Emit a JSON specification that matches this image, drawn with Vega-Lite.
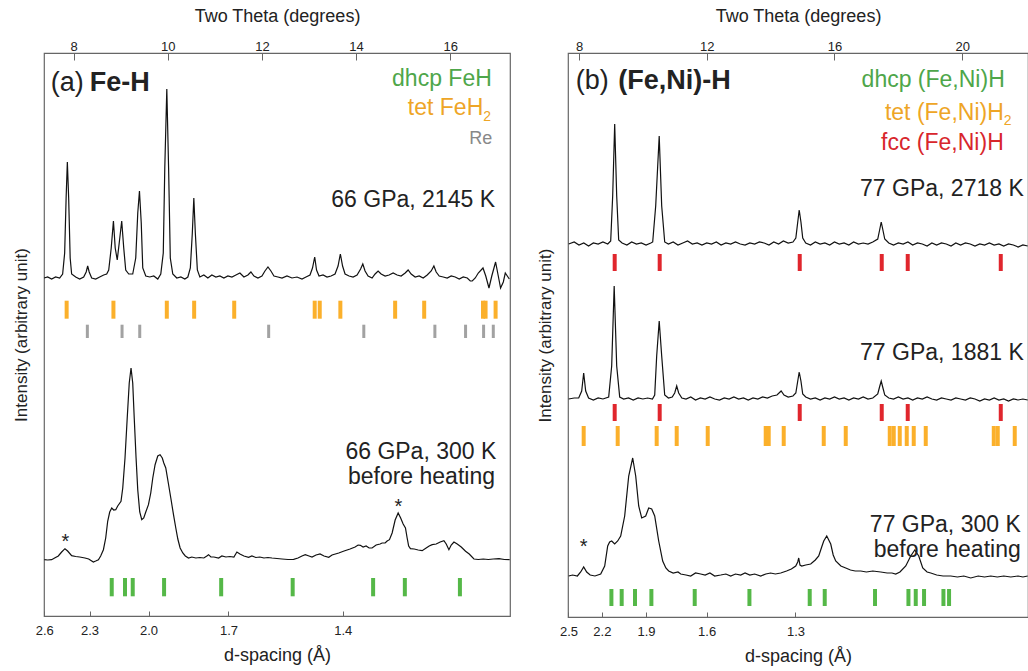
{
"$schema":"https://vega.github.io/schema/vega-lite/v6.json",
"padding":{"left":11,"top":6,"right":0,"bottom":0},
"spacing":24,
"config":{"font":"Liberation Sans","view":{"stroke":"#666","strokeWidth":1.2},
"axis":{"labelFont":"Liberation Sans","titleFont":"Liberation Sans","labelFontSize":13,"titleFontSize":18,"titleFontWeight":"normal","labelColor":"#222","titleColor":"#222","tickColor":"#666","domain":false,"grid":false,"labelFlush":false,"labelOverlap":false,"labelBound":false}},
"datasets":{
"a_spec":[
{"s":"h","tt":7.372,"I":338},{"s":"h","tt":7.447,"I":339},{"s":"h","tt":7.532,"I":337},{"s":"h","tt":7.617,"I":339},{"s":"h","tt":7.702,"I":338},{"s":"h","tt":7.766,"I":342},{"s":"h","tt":7.809,"I":363},{"s":"h","tt":7.84,"I":418},{"s":"h","tt":7.866,"I":454},{"s":"h","tt":7.894,"I":418},{"s":"h","tt":7.926,"I":358},{"s":"h","tt":7.957,"I":342},{"s":"h","tt":8.043,"I":339},{"s":"h","tt":8.128,"I":337},{"s":"h","tt":8.213,"I":339},{"s":"h","tt":8.266,"I":344},{"s":"h","tt":8.298,"I":350},{"s":"h","tt":8.33,"I":344},{"s":"h","tt":8.383,"I":338},{"s":"h","tt":8.468,"I":337},{"s":"h","tt":8.553,"I":339},{"s":"h","tt":8.638,"I":341},{"s":"h","tt":8.702,"I":342},{"s":"h","tt":8.745,"I":346},{"s":"h","tt":8.798,"I":368},{"s":"h","tt":8.845,"I":395},{"s":"h","tt":8.883,"I":368},{"s":"h","tt":8.926,"I":356},{"s":"h","tt":8.968,"I":373},{"s":"h","tt":9.021,"I":395},{"s":"h","tt":9.064,"I":368},{"s":"h","tt":9.106,"I":346},{"s":"h","tt":9.17,"I":342},{"s":"h","tt":9.255,"I":342},{"s":"h","tt":9.319,"I":358},{"s":"h","tt":9.362,"I":403},{"s":"h","tt":9.398,"I":425},{"s":"h","tt":9.436,"I":393},{"s":"h","tt":9.468,"I":348},{"s":"h","tt":9.532,"I":340},{"s":"h","tt":9.617,"I":339},{"s":"h","tt":9.702,"I":340},{"s":"h","tt":9.787,"I":337},{"s":"h","tt":9.851,"I":342},{"s":"h","tt":9.904,"I":363},{"s":"h","tt":9.936,"I":448},{"s":"h","tt":9.979,"I":527},{"s":"h","tt":10.017,"I":448},{"s":"h","tt":10.053,"I":358},{"s":"h","tt":10.106,"I":342},{"s":"h","tt":10.191,"I":338},{"s":"h","tt":10.277,"I":339},{"s":"h","tt":10.362,"I":337},{"s":"h","tt":10.426,"I":339},{"s":"h","tt":10.479,"I":348},{"s":"h","tt":10.521,"I":383},{"s":"h","tt":10.553,"I":418},{"s":"h","tt":10.585,"I":383},{"s":"h","tt":10.628,"I":346},{"s":"h","tt":10.681,"I":339},{"s":"h","tt":10.766,"I":341},{"s":"h","tt":10.851,"I":338},{"s":"h","tt":10.936,"I":341},{"s":"h","tt":11.021,"I":339},{"s":"h","tt":11.106,"I":340},{"s":"h","tt":11.191,"I":338},{"s":"h","tt":11.277,"I":340},{"s":"h","tt":11.362,"I":339},{"s":"h","tt":11.447,"I":341},{"s":"h","tt":11.532,"I":343},{"s":"h","tt":11.617,"I":339},{"s":"h","tt":11.702,"I":341},{"s":"h","tt":11.766,"I":344},{"s":"h","tt":11.83,"I":340},{"s":"h","tt":11.915,"I":338},{"s":"h","tt":12.0,"I":340},{"s":"h","tt":12.064,"I":345},{"s":"h","tt":12.128,"I":349},{"s":"h","tt":12.191,"I":345},{"s":"h","tt":12.255,"I":340},{"s":"h","tt":12.34,"I":339},{"s":"h","tt":12.426,"I":338},{"s":"h","tt":12.532,"I":340},{"s":"h","tt":12.638,"I":338},{"s":"h","tt":12.745,"I":339},{"s":"h","tt":12.851,"I":337},{"s":"h","tt":12.936,"I":339},{"s":"h","tt":13.021,"I":341},{"s":"h","tt":13.074,"I":348},{"s":"h","tt":13.121,"I":359},{"s":"h","tt":13.16,"I":346},{"s":"h","tt":13.213,"I":340},{"s":"h","tt":13.298,"I":341},{"s":"h","tt":13.383,"I":339},{"s":"h","tt":13.468,"I":340},{"s":"h","tt":13.553,"I":342},{"s":"h","tt":13.617,"I":350},{"s":"h","tt":13.666,"I":362},{"s":"h","tt":13.713,"I":350},{"s":"h","tt":13.766,"I":342},{"s":"h","tt":13.851,"I":340},{"s":"h","tt":13.936,"I":339},{"s":"h","tt":14.021,"I":341},{"s":"h","tt":14.096,"I":347},{"s":"h","tt":14.143,"I":352},{"s":"h","tt":14.191,"I":345},{"s":"h","tt":14.255,"I":340},{"s":"h","tt":14.34,"I":338},{"s":"h","tt":14.404,"I":342},{"s":"h","tt":14.468,"I":345},{"s":"h","tt":14.532,"I":342},{"s":"h","tt":14.617,"I":340},{"s":"h","tt":14.702,"I":341},{"s":"h","tt":14.787,"I":343},{"s":"h","tt":14.872,"I":341},{"s":"h","tt":14.957,"I":340},{"s":"h","tt":15.043,"I":343},{"s":"h","tt":15.106,"I":346},{"s":"h","tt":15.17,"I":342},{"s":"h","tt":15.255,"I":339},{"s":"h","tt":15.34,"I":340},{"s":"h","tt":15.426,"I":338},{"s":"h","tt":15.511,"I":341},{"s":"h","tt":15.596,"I":345},{"s":"h","tt":15.653,"I":350},{"s":"h","tt":15.702,"I":344},{"s":"h","tt":15.766,"I":340},{"s":"h","tt":15.851,"I":339},{"s":"h","tt":15.936,"I":338},{"s":"h","tt":16.021,"I":340},{"s":"h","tt":16.106,"I":339},{"s":"h","tt":16.191,"I":337},{"s":"h","tt":16.277,"I":339},{"s":"h","tt":16.362,"I":338},{"s":"h","tt":16.426,"I":335},{"s":"h","tt":16.468,"I":335},{"s":"h","tt":16.532,"I":338},{"s":"h","tt":16.596,"I":343},{"s":"h","tt":16.696,"I":348},{"s":"h","tt":16.755,"I":340},{"s":"h","tt":16.823,"I":328},{"s":"h","tt":16.883,"I":340},{"s":"h","tt":16.964,"I":354},{"s":"h","tt":17.021,"I":340},{"s":"h","tt":17.07,"I":328},{"s":"h","tt":17.128,"I":334},{"s":"h","tt":17.17,"I":343},{"s":"h","tt":17.213,"I":340},{"s":"h","tt":17.255,"I":337},
{"s":"c","tt":7.377,"I":56.3},{"s":"c","tt":7.447,"I":56},{"s":"c","tt":7.532,"I":56.3},{"s":"c","tt":7.596,"I":58},{"s":"c","tt":7.674,"I":60},{"s":"c","tt":7.745,"I":64},{"s":"c","tt":7.815,"I":67.3},{"s":"c","tt":7.872,"I":65},{"s":"c","tt":7.957,"I":60.3},{"s":"c","tt":8.043,"I":59.5},{"s":"c","tt":8.128,"I":59},{"s":"c","tt":8.24,"I":58},{"s":"c","tt":8.319,"I":57},{"s":"c","tt":8.419,"I":54},{"s":"c","tt":8.468,"I":55},{"s":"c","tt":8.526,"I":56.3},{"s":"c","tt":8.574,"I":60},{"s":"c","tt":8.632,"I":66.3},{"s":"c","tt":8.681,"I":78},{"s":"c","tt":8.723,"I":94.7},{"s":"c","tt":8.766,"I":104},{"s":"c","tt":8.809,"I":108},{"s":"c","tt":8.851,"I":106},{"s":"c","tt":8.894,"I":106.3},{"s":"c","tt":8.936,"I":110},{"s":"c","tt":9.006,"I":114.7},{"s":"c","tt":9.043,"I":128},{"s":"c","tt":9.091,"I":158},{"s":"c","tt":9.138,"I":198},{"s":"c","tt":9.181,"I":233},{"s":"c","tt":9.219,"I":248},{"s":"c","tt":9.255,"I":233},{"s":"c","tt":9.287,"I":198},{"s":"c","tt":9.326,"I":158},{"s":"c","tt":9.362,"I":126},{"s":"c","tt":9.404,"I":104},{"s":"c","tt":9.447,"I":96.3},{"s":"c","tt":9.489,"I":98},{"s":"c","tt":9.532,"I":104},{"s":"c","tt":9.589,"I":111.3},{"s":"c","tt":9.638,"I":123},{"s":"c","tt":9.681,"I":138},{"s":"c","tt":9.73,"I":151.3},{"s":"c","tt":9.787,"I":160},{"s":"c","tt":9.836,"I":161.3},{"s":"c","tt":9.883,"I":158},{"s":"c","tt":9.915,"I":153},{"s":"c","tt":9.957,"I":148},{"s":"c","tt":10.011,"I":133},{"s":"c","tt":10.064,"I":118},{"s":"c","tt":10.121,"I":101.3},{"s":"c","tt":10.17,"I":88},{"s":"c","tt":10.213,"I":77},{"s":"c","tt":10.262,"I":68},{"s":"c","tt":10.319,"I":63},{"s":"c","tt":10.372,"I":60},{"s":"c","tt":10.44,"I":58},{"s":"c","tt":10.511,"I":59},{"s":"c","tt":10.596,"I":58},{"s":"c","tt":10.681,"I":58.5},{"s":"c","tt":10.766,"I":58},{"s":"c","tt":10.83,"I":60},{"s":"c","tt":10.866,"I":61.3},{"s":"c","tt":10.915,"I":59},{"s":"c","tt":10.979,"I":59},{"s":"c","tt":11.079,"I":58},{"s":"c","tt":11.149,"I":60},{"s":"c","tt":11.234,"I":59},{"s":"c","tt":11.319,"I":59.5},{"s":"c","tt":11.404,"I":59},{"s":"c","tt":11.468,"I":64},{"s":"c","tt":11.532,"I":62},{"s":"c","tt":11.617,"I":60},{"s":"c","tt":11.717,"I":58.7},{"s":"c","tt":11.787,"I":60},{"s":"c","tt":11.872,"I":58.5},{"s":"c","tt":11.957,"I":59},{"s":"c","tt":12.043,"I":58},{"s":"c","tt":12.128,"I":58.5},{"s":"c","tt":12.213,"I":58},{"s":"c","tt":12.319,"I":57.5},{"s":"c","tt":12.426,"I":57},{"s":"c","tt":12.553,"I":56.5},{"s":"c","tt":12.674,"I":56.7},{"s":"c","tt":12.766,"I":58},{"s":"c","tt":12.851,"I":60},{"s":"c","tt":12.921,"I":61.3},{"s":"c","tt":13.0,"I":60},{"s":"c","tt":13.064,"I":59},{"s":"c","tt":13.149,"I":61},{"s":"c","tt":13.234,"I":62},{"s":"c","tt":13.319,"I":60},{"s":"c","tt":13.419,"I":58.7},{"s":"c","tt":13.489,"I":61},{"s":"c","tt":13.632,"I":63},{"s":"c","tt":13.745,"I":65},{"s":"c","tt":13.872,"I":67},{"s":"c","tt":13.979,"I":69},{"s":"c","tt":14.043,"I":71},{"s":"c","tt":14.091,"I":70.7},{"s":"c","tt":14.149,"I":69},{"s":"c","tt":14.213,"I":70},{"s":"c","tt":14.277,"I":68},{"s":"c","tt":14.34,"I":68},{"s":"c","tt":14.426,"I":71},{"s":"c","tt":14.511,"I":72},{"s":"c","tt":14.553,"I":73},{"s":"c","tt":14.617,"I":73},{"s":"c","tt":14.66,"I":75},{"s":"c","tt":14.709,"I":76.3},{"s":"c","tt":14.766,"I":83},{"s":"c","tt":14.83,"I":96},{"s":"c","tt":14.894,"I":103},{"s":"c","tt":14.947,"I":98},{"s":"c","tt":15.0,"I":92},{"s":"c","tt":15.049,"I":88},{"s":"c","tt":15.085,"I":78},{"s":"c","tt":15.117,"I":70},{"s":"c","tt":15.155,"I":67.3},{"s":"c","tt":15.234,"I":67},{"s":"c","tt":15.319,"I":66},{"s":"c","tt":15.404,"I":65.3},{"s":"c","tt":15.489,"I":68},{"s":"c","tt":15.553,"I":70},{"s":"c","tt":15.617,"I":71.3},{"s":"c","tt":15.702,"I":72},{"s":"c","tt":15.787,"I":74},{"s":"c","tt":15.866,"I":75.3},{"s":"c","tt":15.915,"I":72},{"s":"c","tt":15.972,"I":66.3},{"s":"c","tt":16.021,"I":71},{"s":"c","tt":16.079,"I":74},{"s":"c","tt":16.149,"I":72},{"s":"c","tt":16.234,"I":69},{"s":"c","tt":16.326,"I":64.7},{"s":"c","tt":16.404,"I":62},{"s":"c","tt":16.504,"I":57},{"s":"c","tt":16.596,"I":56.5},{"s":"c","tt":16.702,"I":57},{"s":"c","tt":16.809,"I":56.5},{"s":"c","tt":16.915,"I":57},{"s":"c","tt":17.036,"I":57.3},{"s":"c","tt":17.149,"I":56.5},{"s":"c","tt":17.262,"I":56.3}
],
"a_ticks":[
{"phase":"tet","tt":7.851,"lo":297.3,"hi":315.3},{"phase":"tet","tt":8.845,"lo":297.3,"hi":315.3},{"phase":"tet","tt":9.979,"lo":297.3,"hi":315.3},{"phase":"tet","tt":10.56,"lo":297.3,"hi":315.3},{"phase":"tet","tt":11.411,"lo":297.3,"hi":315.3},{"phase":"tet","tt":13.121,"lo":297.3,"hi":315.3},{"phase":"tet","tt":13.228,"lo":297.3,"hi":315.3},{"phase":"tet","tt":13.666,"lo":297.3,"hi":315.3},{"phase":"tet","tt":14.83,"lo":297.3,"hi":315.3},{"phase":"tet","tt":15.447,"lo":297.3,"hi":315.3},{"phase":"tet","tt":16.696,"lo":297.3,"hi":315.3},{"phase":"tet","tt":16.751,"lo":297.3,"hi":315.3},{"phase":"tet","tt":16.964,"lo":297.3,"hi":315.3},
{"phase":"Re","tt":8.291,"lo":278,"hi":291.3},{"phase":"Re","tt":9.028,"lo":278,"hi":291.3},{"phase":"Re","tt":9.404,"lo":278,"hi":291.3},{"phase":"Re","tt":12.143,"lo":278,"hi":291.3},{"phase":"Re","tt":14.164,"lo":278,"hi":291.3},{"phase":"Re","tt":15.674,"lo":278,"hi":291.3},{"phase":"Re","tt":16.326,"lo":278,"hi":291.3},{"phase":"Re","tt":16.709,"lo":278,"hi":291.3},{"phase":"Re","tt":16.915,"lo":278,"hi":291.3},
{"phase":"dhcp","tt":8.809,"lo":19.7,"hi":38},{"phase":"dhcp","tt":9.091,"lo":19.7,"hi":38},{"phase":"dhcp","tt":9.255,"lo":19.7,"hi":38},{"phase":"dhcp","tt":9.921,"lo":19.7,"hi":38},{"phase":"dhcp","tt":11.134,"lo":19.7,"hi":38},{"phase":"dhcp","tt":12.653,"lo":19.7,"hi":38},{"phase":"dhcp","tt":14.362,"lo":19.7,"hi":38},{"phase":"dhcp","tt":15.036,"lo":19.7,"hi":38},{"phase":"dhcp","tt":16.206,"lo":19.7,"hi":38}
],
"a_text":[
{"grp":"id","label":"(a)","tt":7.511,"I":525},{"grp":"name","label":"Fe-H","tt":8.34,"I":525},
{"grp":"dhcp","label":"dhcp FeH","tt":16.883,"I":529.7},{"grp":"tet","label":"tet FeH","tt":16.702,"I":500.7},{"grp":"tetsub","label":"2","tt":16.702,"I":495},{"grp":"re","label":"Re","tt":16.894,"I":472},
{"grp":"cond","label":"66 GPa, 2145 K","tt":16.951,"I":409},{"grp":"cond","label":"66 GPa, 300 K","tt":16.979,"I":157.3},{"grp":"cond","label":"before heating","tt":16.951,"I":132},
{"grp":"star","label":"*","tt":7.823,"I":67.7},{"grp":"star","label":"*","tt":14.9,"I":103}
],
"b_spec":[
{"s":"h","tt":7.677,"I":373},{"s":"h","tt":7.85,"I":375},{"s":"h","tt":8.0,"I":372},{"s":"h","tt":8.15,"I":374},{"s":"h","tt":8.3,"I":371},{"s":"h","tt":8.45,"I":374},{"s":"h","tt":8.6,"I":373},{"s":"h","tt":8.75,"I":375},{"s":"h","tt":8.9,"I":373},{"s":"h","tt":8.993,"I":376},{"s":"h","tt":9.055,"I":421},{"s":"h","tt":9.118,"I":493},{"s":"h","tt":9.181,"I":421},{"s":"h","tt":9.243,"I":377},{"s":"h","tt":9.35,"I":374},{"s":"h","tt":9.5,"I":372},{"s":"h","tt":9.65,"I":375},{"s":"h","tt":9.8,"I":373},{"s":"h","tt":9.95,"I":374},{"s":"h","tt":10.1,"I":372},{"s":"h","tt":10.25,"I":374},{"s":"h","tt":10.308,"I":375},{"s":"h","tt":10.402,"I":411},{"s":"h","tt":10.512,"I":481},{"s":"h","tt":10.59,"I":411},{"s":"h","tt":10.684,"I":375},{"s":"h","tt":10.8,"I":373},{"s":"h","tt":10.95,"I":375},{"s":"h","tt":11.1,"I":372},{"s":"h","tt":11.25,"I":374},{"s":"h","tt":11.4,"I":376},{"s":"h","tt":11.55,"I":373},{"s":"h","tt":11.7,"I":374},{"s":"h","tt":11.85,"I":372},{"s":"h","tt":12.0,"I":374},{"s":"h","tt":12.15,"I":373},{"s":"h","tt":12.3,"I":375},{"s":"h","tt":12.45,"I":372},{"s":"h","tt":12.6,"I":374},{"s":"h","tt":12.75,"I":373},{"s":"h","tt":12.9,"I":375},{"s":"h","tt":13.05,"I":373},{"s":"h","tt":13.2,"I":372},{"s":"h","tt":13.35,"I":374},{"s":"h","tt":13.5,"I":373},{"s":"h","tt":13.65,"I":375},{"s":"h","tt":13.8,"I":374},{"s":"h","tt":13.95,"I":372},{"s":"h","tt":14.1,"I":375},{"s":"h","tt":14.25,"I":373},{"s":"h","tt":14.4,"I":376},{"s":"h","tt":14.55,"I":374},{"s":"h","tt":14.7,"I":375},{"s":"h","tt":14.79,"I":379},{"s":"h","tt":14.85,"I":395},{"s":"h","tt":14.896,"I":407},{"s":"h","tt":14.95,"I":395},{"s":"h","tt":15.006,"I":379},{"s":"h","tt":15.1,"I":374},{"s":"h","tt":15.25,"I":372},{"s":"h","tt":15.4,"I":375},{"s":"h","tt":15.55,"I":373},{"s":"h","tt":15.7,"I":374},{"s":"h","tt":15.85,"I":372},{"s":"h","tt":16.0,"I":375},{"s":"h","tt":16.15,"I":373},{"s":"h","tt":16.3,"I":374},{"s":"h","tt":16.45,"I":372},{"s":"h","tt":16.6,"I":375},{"s":"h","tt":16.75,"I":373},{"s":"h","tt":16.9,"I":374},{"s":"h","tt":17.05,"I":373},{"s":"h","tt":17.2,"I":375},{"s":"h","tt":17.355,"I":378},{"s":"h","tt":17.42,"I":388},{"s":"h","tt":17.464,"I":395},{"s":"h","tt":17.51,"I":388},{"s":"h","tt":17.574,"I":378},{"s":"h","tt":17.7,"I":374},{"s":"h","tt":17.85,"I":372},{"s":"h","tt":18.0,"I":374},{"s":"h","tt":18.15,"I":373},{"s":"h","tt":18.3,"I":375},{"s":"h","tt":18.45,"I":372},{"s":"h","tt":18.6,"I":374},{"s":"h","tt":18.75,"I":373},{"s":"h","tt":18.9,"I":371},{"s":"h","tt":19.05,"I":374},{"s":"h","tt":19.2,"I":372},{"s":"h","tt":19.35,"I":374},{"s":"h","tt":19.5,"I":373},{"s":"h","tt":19.65,"I":371},{"s":"h","tt":19.8,"I":374},{"s":"h","tt":19.95,"I":372},{"s":"h","tt":20.1,"I":374},{"s":"h","tt":20.25,"I":373},{"s":"h","tt":20.4,"I":371},{"s":"h","tt":20.55,"I":373},{"s":"h","tt":20.7,"I":372},{"s":"h","tt":20.85,"I":374},{"s":"h","tt":21.0,"I":372},{"s":"h","tt":21.15,"I":373},{"s":"h","tt":21.3,"I":371},{"s":"h","tt":21.45,"I":373},{"s":"h","tt":21.6,"I":372},{"s":"h","tt":21.75,"I":370},{"s":"h","tt":21.9,"I":372},{"s":"h","tt":22.05,"I":371},
{"s":"m","tt":7.677,"I":218},{"s":"m","tt":7.85,"I":219},{"s":"m","tt":7.991,"I":219},{"s":"m","tt":8.085,"I":226},{"s":"m","tt":8.147,"I":244},{"s":"m","tt":8.21,"I":226},{"s":"m","tt":8.3,"I":219},{"s":"m","tt":8.45,"I":217},{"s":"m","tt":8.6,"I":219},{"s":"m","tt":8.75,"I":218},{"s":"m","tt":8.93,"I":220},{"s":"m","tt":9.024,"I":251},{"s":"m","tt":9.102,"I":331},{"s":"m","tt":9.181,"I":251},{"s":"m","tt":9.275,"I":220},{"s":"m","tt":9.4,"I":218},{"s":"m","tt":9.55,"I":219},{"s":"m","tt":9.7,"I":217},{"s":"m","tt":9.85,"I":219},{"s":"m","tt":10.0,"I":218},{"s":"m","tt":10.15,"I":219},{"s":"m","tt":10.3,"I":218},{"s":"m","tt":10.371,"I":222},{"s":"m","tt":10.433,"I":261},{"s":"m","tt":10.512,"I":296},{"s":"m","tt":10.59,"I":261},{"s":"m","tt":10.684,"I":222},{"s":"m","tt":10.8,"I":219},{"s":"m","tt":10.92,"I":220},{"s":"m","tt":10.997,"I":224},{"s":"m","tt":11.06,"I":231},{"s":"m","tt":11.122,"I":224},{"s":"m","tt":11.22,"I":219},{"s":"m","tt":11.35,"I":218},{"s":"m","tt":11.5,"I":220},{"s":"m","tt":11.65,"I":217},{"s":"m","tt":11.8,"I":219},{"s":"m","tt":11.95,"I":218},{"s":"m","tt":12.1,"I":220},{"s":"m","tt":12.25,"I":218},{"s":"m","tt":12.4,"I":217},{"s":"m","tt":12.55,"I":219},{"s":"m","tt":12.7,"I":218},{"s":"m","tt":12.85,"I":220},{"s":"m","tt":13.0,"I":218},{"s":"m","tt":13.15,"I":219},{"s":"m","tt":13.3,"I":217},{"s":"m","tt":13.45,"I":219},{"s":"m","tt":13.6,"I":218},{"s":"m","tt":13.75,"I":220},{"s":"m","tt":13.9,"I":219},{"s":"m","tt":14.05,"I":221},{"s":"m","tt":14.2,"I":222},{"s":"m","tt":14.33,"I":226},{"s":"m","tt":14.42,"I":222},{"s":"m","tt":14.55,"I":220},{"s":"m","tt":14.7,"I":221},{"s":"m","tt":14.79,"I":224},{"s":"m","tt":14.85,"I":236},{"s":"m","tt":14.896,"I":245},{"s":"m","tt":14.95,"I":236},{"s":"m","tt":15.006,"I":223},{"s":"m","tt":15.1,"I":220},{"s":"m","tt":15.25,"I":218},{"s":"m","tt":15.4,"I":219},{"s":"m","tt":15.55,"I":217},{"s":"m","tt":15.7,"I":219},{"s":"m","tt":15.85,"I":218},{"s":"m","tt":16.0,"I":220},{"s":"m","tt":16.15,"I":218},{"s":"m","tt":16.3,"I":219},{"s":"m","tt":16.45,"I":217},{"s":"m","tt":16.6,"I":219},{"s":"m","tt":16.75,"I":218},{"s":"m","tt":16.9,"I":220},{"s":"m","tt":17.05,"I":218},{"s":"m","tt":17.2,"I":219},{"s":"m","tt":17.355,"I":223},{"s":"m","tt":17.42,"I":231},{"s":"m","tt":17.464,"I":236},{"s":"m","tt":17.51,"I":230},{"s":"m","tt":17.574,"I":222},{"s":"m","tt":17.7,"I":219},{"s":"m","tt":17.85,"I":218},{"s":"m","tt":18.0,"I":220},{"s":"m","tt":18.15,"I":218},{"s":"m","tt":18.3,"I":219},{"s":"m","tt":18.45,"I":217},{"s":"m","tt":18.6,"I":219},{"s":"m","tt":18.75,"I":218},{"s":"m","tt":18.9,"I":220},{"s":"m","tt":19.05,"I":218},{"s":"m","tt":19.2,"I":217},{"s":"m","tt":19.35,"I":219},{"s":"m","tt":19.5,"I":218},{"s":"m","tt":19.65,"I":217},{"s":"m","tt":19.8,"I":219},{"s":"m","tt":19.95,"I":218},{"s":"m","tt":20.1,"I":217},{"s":"m","tt":20.25,"I":219},{"s":"m","tt":20.4,"I":218},{"s":"m","tt":20.55,"I":216},{"s":"m","tt":20.7,"I":218},{"s":"m","tt":20.85,"I":217},{"s":"m","tt":21.0,"I":219},{"s":"m","tt":21.15,"I":217},{"s":"m","tt":21.3,"I":218},{"s":"m","tt":21.45,"I":216},{"s":"m","tt":21.6,"I":218},{"s":"m","tt":21.75,"I":217},{"s":"m","tt":21.9,"I":218},{"s":"m","tt":22.05,"I":217},
{"s":"c","tt":7.677,"I":41},{"s":"c","tt":7.8,"I":42},{"s":"c","tt":7.95,"I":41},{"s":"c","tt":8.053,"I":45},{"s":"c","tt":8.147,"I":50},{"s":"c","tt":8.241,"I":45},{"s":"c","tt":8.35,"I":42},{"s":"c","tt":8.5,"I":41},{"s":"c","tt":8.68,"I":43},{"s":"c","tt":8.805,"I":51},{"s":"c","tt":8.899,"I":71},{"s":"c","tt":8.96,"I":75},{"s":"c","tt":9.024,"I":76},{"s":"c","tt":9.118,"I":73},{"s":"c","tt":9.212,"I":76},{"s":"c","tt":9.306,"I":81},{"s":"c","tt":9.431,"I":101},{"s":"c","tt":9.557,"I":141},{"s":"c","tt":9.682,"I":159},{"s":"c","tt":9.776,"I":141},{"s":"c","tt":9.87,"I":111},{"s":"c","tt":9.964,"I":99},{"s":"c","tt":10.089,"I":101},{"s":"c","tt":10.183,"I":109},{"s":"c","tt":10.277,"I":108},{"s":"c","tt":10.371,"I":101},{"s":"c","tt":10.496,"I":76},{"s":"c","tt":10.621,"I":56},{"s":"c","tt":10.72,"I":49},{"s":"c","tt":10.809,"I":46},{"s":"c","tt":10.95,"I":44},{"s":"c","tt":11.1,"I":45},{"s":"c","tt":11.185,"I":43},{"s":"c","tt":11.35,"I":42},{"s":"c","tt":11.498,"I":41},{"s":"c","tt":11.65,"I":44},{"s":"c","tt":11.811,"I":43},{"s":"c","tt":11.95,"I":42},{"s":"c","tt":12.1,"I":44},{"s":"c","tt":12.25,"I":41},{"s":"c","tt":12.438,"I":42},{"s":"c","tt":12.6,"I":43},{"s":"c","tt":12.75,"I":41},{"s":"c","tt":12.9,"I":43},{"s":"c","tt":13.064,"I":42},{"s":"c","tt":13.2,"I":44},{"s":"c","tt":13.35,"I":42},{"s":"c","tt":13.5,"I":43},{"s":"c","tt":13.691,"I":41},{"s":"c","tt":13.85,"I":43},{"s":"c","tt":14.0,"I":44},{"s":"c","tt":14.15,"I":43},{"s":"c","tt":14.317,"I":44},{"s":"c","tt":14.5,"I":46},{"s":"c","tt":14.65,"I":48},{"s":"c","tt":14.787,"I":51},{"s":"c","tt":14.85,"I":55},{"s":"c","tt":14.881,"I":59},{"s":"c","tt":14.92,"I":52},{"s":"c","tt":14.975,"I":51},{"s":"c","tt":15.1,"I":52},{"s":"c","tt":15.256,"I":53},{"s":"c","tt":15.4,"I":57},{"s":"c","tt":15.507,"I":61},{"s":"c","tt":15.6,"I":70},{"s":"c","tt":15.664,"I":76},{"s":"c","tt":15.758,"I":81},{"s":"c","tt":15.883,"I":73},{"s":"c","tt":15.96,"I":62},{"s":"c","tt":16.039,"I":56},{"s":"c","tt":16.2,"I":51},{"s":"c","tt":16.353,"I":49},{"s":"c","tt":16.5,"I":47},{"s":"c","tt":16.65,"I":46},{"s":"c","tt":16.822,"I":46},{"s":"c","tt":17.0,"I":45},{"s":"c","tt":17.2,"I":46},{"s":"c","tt":17.449,"I":45},{"s":"c","tt":17.65,"I":44},{"s":"c","tt":17.8,"I":44},{"s":"c","tt":17.918,"I":43},{"s":"c","tt":18.05,"I":45},{"s":"c","tt":18.232,"I":51},{"s":"c","tt":18.388,"I":61},{"s":"c","tt":18.514,"I":67},{"s":"c","tt":18.639,"I":61},{"s":"c","tt":18.764,"I":49},{"s":"c","tt":18.9,"I":45},{"s":"c","tt":19.015,"I":44},{"s":"c","tt":19.2,"I":42},{"s":"c","tt":19.4,"I":41},{"s":"c","tt":19.641,"I":41},{"s":"c","tt":19.85,"I":40},{"s":"c","tt":20.05,"I":41},{"s":"c","tt":20.267,"I":39},{"s":"c","tt":20.5,"I":41},{"s":"c","tt":20.7,"I":40},{"s":"c","tt":20.894,"I":41},{"s":"c","tt":21.1,"I":40},{"s":"c","tt":21.3,"I":41},{"s":"c","tt":21.52,"I":40},{"s":"c","tt":21.75,"I":41},{"s":"c","tt":21.9,"I":40},{"s":"c","tt":22.05,"I":41}
],
"b_ticks":[
{"phase":"fcc","tt":9.118,"lo":346,"hi":363},{"phase":"fcc","tt":10.527,"lo":346,"hi":363},{"phase":"fcc","tt":14.912,"lo":346,"hi":363},{"phase":"fcc","tt":17.48,"lo":346,"hi":363},{"phase":"fcc","tt":18.294,"lo":346,"hi":363},{"phase":"fcc","tt":21.207,"lo":346,"hi":363},
{"phase":"fcc","tt":9.118,"lo":196,"hi":213},{"phase":"fcc","tt":10.527,"lo":196,"hi":213},{"phase":"fcc","tt":14.912,"lo":196,"hi":213},{"phase":"fcc","tt":17.48,"lo":196,"hi":213},{"phase":"fcc","tt":18.294,"lo":196,"hi":213},{"phase":"fcc","tt":21.207,"lo":196,"hi":213},
{"phase":"tet","tt":8.147,"lo":171,"hi":191},{"phase":"tet","tt":9.212,"lo":171,"hi":191},{"phase":"tet","tt":10.433,"lo":171,"hi":191},{"phase":"tet","tt":11.06,"lo":171,"hi":191},{"phase":"tet","tt":12.031,"lo":171,"hi":191},{"phase":"tet","tt":13.847,"lo":171,"hi":191},{"phase":"tet","tt":13.941,"lo":171,"hi":191},{"phase":"tet","tt":14.411,"lo":171,"hi":191},{"phase":"tet","tt":15.664,"lo":171,"hi":191},{"phase":"tet","tt":16.353,"lo":171,"hi":191},{"phase":"tet","tt":17.731,"lo":171,"hi":191},{"phase":"tet","tt":17.856,"lo":171,"hi":191},{"phase":"tet","tt":18.044,"lo":171,"hi":191},{"phase":"tet","tt":18.263,"lo":171,"hi":191},{"phase":"tet","tt":18.482,"lo":171,"hi":191},{"phase":"tet","tt":18.858,"lo":171,"hi":191},{"phase":"tet","tt":20.988,"lo":171,"hi":191},{"phase":"tet","tt":21.113,"lo":171,"hi":191},{"phase":"tet","tt":21.645,"lo":171,"hi":191},
{"phase":"dhcp","tt":9.015,"lo":11,"hi":28},{"phase":"dhcp","tt":9.337,"lo":11,"hi":28},{"phase":"dhcp","tt":9.754,"lo":11,"hi":28},{"phase":"dhcp","tt":10.267,"lo":11,"hi":28},{"phase":"dhcp","tt":11.624,"lo":11,"hi":28},{"phase":"dhcp","tt":13.337,"lo":11,"hi":28},{"phase":"dhcp","tt":15.225,"lo":11,"hi":28},{"phase":"dhcp","tt":15.695,"lo":11,"hi":28},{"phase":"dhcp","tt":17.27,"lo":11,"hi":28},{"phase":"dhcp","tt":18.316,"lo":11,"hi":28},{"phase":"dhcp","tt":18.545,"lo":11,"hi":28},{"phase":"dhcp","tt":18.805,"lo":11,"hi":28},{"phase":"dhcp","tt":19.412,"lo":11,"hi":28},{"phase":"dhcp","tt":19.588,"lo":11,"hi":28}
],
"b_text":[
{"grp":"id","label":"(b)","tt":7.897,"I":527.7},{"grp":"name","label":"(Fe,Ni)-H","tt":9.228,"I":527.7},
{"grp":"dhcp","label":"dhcp (Fe,Ni)H","tt":21.332,"I":530.3},{"grp":"tet","label":"tet (Fe,Ni)H","tt":21.301,"I":497},{"grp":"tetsub","label":"2","tt":21.301,"I":492},{"grp":"fcc","label":"fcc (Fe,Ni)H","tt":21.301,"I":466.7},
{"grp":"cond","label":"77 GPa, 2718 K","tt":21.927,"I":421},{"grp":"cond","label":"77 GPa, 1881 K","tt":21.927,"I":257},{"grp":"cond","label":"77 GPa, 300 K","tt":21.833,"I":85},{"grp":"cond","label":"before heating","tt":21.833,"I":60},
{"grp":"star","label":"*","tt":8.147,"I":64}
]
},
"hconcat":[
{"width":466,"height":563,"resolve":{"axis":{"x":"independent"}},
"encoding":{"y":{"type":"quantitative","scale":{"domain":[0,563],"nice":false,"zero":false},"axis":{"title":"Intensity (arbitrary unit)","titleFontSize":17,"labels":false,"ticks":false,"domain":false,"titlePadding":14}}},
"layer":[
{"data":{"name":"a_spec"},"mark":{"type":"line","color":"#111","strokeWidth":1.2,"clip":true},
"encoding":{"x":{"field":"tt","type":"quantitative","scale":{"domain":[7.37,17.27],"nice":false,"zero":false},"axis":{"orient":"top","title":"Two Theta (degrees)","values":[8,10,12,14,16],"tickSize":-7,"labelPadding":7,"titlePadding":15}},
"y":{"field":"I"},
"detail":{"field":"s","type":"nominal"}}},
{"data":{"name":"a_ticks"},"transform":[{"filter":"datum.phase != 'Re'"}],"mark":{"type":"rule","strokeWidth":4},
"encoding":{"x":{"field":"tt","type":"quantitative","scale":{"domain":[7.37,17.27],"nice":false,"zero":false},"axis":{"orient":"bottom","title":"d-spacing (Å)","values":[7.374,8.338,9.591,11.289,13.718],"labelExpr":"format(0.3344/(2*sin(datum.value*PI/360)),'.1f')","tickSize":-5,"labelPadding":13,"titlePadding":9}},
"y":{"field":"lo"},"y2":{"field":"hi"},
"color":{"field":"phase","type":"nominal","scale":{"domain":["dhcp","tet","fcc"],"range":["#55b848","#fbb02b","#e0262d"]},"legend":null}}},
{"data":{"name":"a_ticks"},"transform":[{"filter":"datum.phase == 'Re'"}],"mark":{"type":"rule","strokeWidth":3,"color":"#a2a2a2"},
"encoding":{"x":{"field":"tt","type":"quantitative","scale":{"domain":[7.37,17.27],"nice":false,"zero":false},"axis":null},"y":{"field":"lo"},"y2":{"field":"hi"}}},
{"data":{"name":"a_text"},"transform":[{"filter":"datum.grp == 'id'"}],"mark":{"type":"text","align":"left","baseline":"alphabetic","fontSize":27,"color":"#222"},
"encoding":{"x":{"field":"tt","type":"quantitative","scale":{"domain":[7.37,17.27],"nice":false,"zero":false},"axis":null},"y":{"field":"I"},"text":{"field":"label"}}},
{"data":{"name":"a_text"},"transform":[{"filter":"datum.grp == 'name'"}],"mark":{"type":"text","align":"left","baseline":"alphabetic","fontSize":27,"fontWeight":"bold","color":"#222"},
"encoding":{"x":{"field":"tt","type":"quantitative","scale":{"domain":[7.37,17.27],"nice":false,"zero":false},"axis":null},"y":{"field":"I"},"text":{"field":"label"}}},
{"data":{"name":"a_text"},"transform":[{"filter":"datum.grp == 'dhcp'"}],"mark":{"type":"text","align":"right","baseline":"alphabetic","fontSize":23,"color":"#4ea64a"},
"encoding":{"x":{"field":"tt","type":"quantitative","scale":{"domain":[7.37,17.27],"nice":false,"zero":false},"axis":null},"y":{"field":"I"},"text":{"field":"label"}}},
{"data":{"name":"a_text"},"transform":[{"filter":"datum.grp == 'tet'"}],"mark":{"type":"text","align":"right","baseline":"alphabetic","fontSize":23,"color":"#eea526"},
"encoding":{"x":{"field":"tt","type":"quantitative","scale":{"domain":[7.37,17.27],"nice":false,"zero":false},"axis":null},"y":{"field":"I"},"text":{"field":"label"}}},
{"data":{"name":"a_text"},"transform":[{"filter":"datum.grp == 'tetsub'"}],"mark":{"type":"text","align":"left","baseline":"alphabetic","fontSize":14,"color":"#eea526"},
"encoding":{"x":{"field":"tt","type":"quantitative","scale":{"domain":[7.37,17.27],"nice":false,"zero":false},"axis":null},"y":{"field":"I"},"text":{"field":"label"}}},
{"data":{"name":"a_text"},"transform":[{"filter":"datum.grp == 're'"}],"mark":{"type":"text","align":"right","baseline":"alphabetic","fontSize":18,"color":"#888"},
"encoding":{"x":{"field":"tt","type":"quantitative","scale":{"domain":[7.37,17.27],"nice":false,"zero":false},"axis":null},"y":{"field":"I"},"text":{"field":"label"}}},
{"data":{"name":"a_text"},"transform":[{"filter":"datum.grp == 'cond'"}],"mark":{"type":"text","align":"right","baseline":"alphabetic","fontSize":23,"color":"#222"},
"encoding":{"x":{"field":"tt","type":"quantitative","scale":{"domain":[7.37,17.27],"nice":false,"zero":false},"axis":null},"y":{"field":"I"},"text":{"field":"label"}}},
{"data":{"name":"a_text"},"transform":[{"filter":"datum.grp == 'star'"}],"mark":{"type":"text","align":"center","baseline":"alphabetic","fontSize":20,"color":"#222"},
"encoding":{"x":{"field":"tt","type":"quantitative","scale":{"domain":[7.37,17.27],"nice":false,"zero":false},"axis":null},"y":{"field":"I"},"text":{"field":"label"}}}
]},
{"width":460,"height":564,"resolve":{"axis":{"x":"independent"}},
"encoding":{"y":{"type":"quantitative","scale":{"domain":[0,564],"nice":false,"zero":false},"axis":{"title":"Intensity (arbitrary unit)","titleFontSize":17,"labels":false,"ticks":false,"domain":false,"titlePadding":14}}},
"layer":[
{"data":{"name":"b_spec"},"mark":{"type":"line","color":"#111","strokeWidth":1.2,"clip":true},
"encoding":{"x":{"field":"tt","type":"quantitative","scale":{"domain":[7.656,22.06],"nice":false,"zero":false},"axis":{"orient":"top","title":"Two Theta (degrees)","values":[8,12,16,20],"tickSize":-7,"labelPadding":7,"titlePadding":15}},
"y":{"field":"I"},
"detail":{"field":"s","type":"nominal"}}},
{"data":{"name":"b_ticks"},"mark":{"type":"rule","strokeWidth":4},
"encoding":{"x":{"field":"tt","type":"quantitative","scale":{"domain":[7.656,22.06],"nice":false,"zero":false},"axis":{"orient":"bottom","title":"d-spacing (Å)","values":[7.67,8.717,10.097,11.997,14.779],"labelExpr":"format(0.3344/(2*sin(datum.value*PI/360)),'.1f')","tickSize":-5,"labelPadding":13,"titlePadding":9}},
"y":{"field":"lo"},"y2":{"field":"hi"},
"color":{"field":"phase","type":"nominal","scale":{"domain":["dhcp","tet","fcc"],"range":["#55b848","#fbb02b","#e0262d"]},"legend":null}}},
{"data":{"name":"b_text"},"transform":[{"filter":"datum.grp == 'id'"}],"mark":{"type":"text","align":"left","baseline":"alphabetic","fontSize":27,"color":"#222"},
"encoding":{"x":{"field":"tt","type":"quantitative","scale":{"domain":[7.656,22.06],"nice":false,"zero":false},"axis":null},"y":{"field":"I"},"text":{"field":"label"}}},
{"data":{"name":"b_text"},"transform":[{"filter":"datum.grp == 'name'"}],"mark":{"type":"text","align":"left","baseline":"alphabetic","fontSize":27,"fontWeight":"bold","color":"#222"},
"encoding":{"x":{"field":"tt","type":"quantitative","scale":{"domain":[7.656,22.06],"nice":false,"zero":false},"axis":null},"y":{"field":"I"},"text":{"field":"label"}}},
{"data":{"name":"b_text"},"transform":[{"filter":"datum.grp == 'dhcp'"}],"mark":{"type":"text","align":"right","baseline":"alphabetic","fontSize":23,"color":"#4ea64a"},
"encoding":{"x":{"field":"tt","type":"quantitative","scale":{"domain":[7.656,22.06],"nice":false,"zero":false},"axis":null},"y":{"field":"I"},"text":{"field":"label"}}},
{"data":{"name":"b_text"},"transform":[{"filter":"datum.grp == 'tet'"}],"mark":{"type":"text","align":"right","baseline":"alphabetic","fontSize":23,"color":"#eea526"},
"encoding":{"x":{"field":"tt","type":"quantitative","scale":{"domain":[7.656,22.06],"nice":false,"zero":false},"axis":null},"y":{"field":"I"},"text":{"field":"label"}}},
{"data":{"name":"b_text"},"transform":[{"filter":"datum.grp == 'tetsub'"}],"mark":{"type":"text","align":"left","baseline":"alphabetic","fontSize":14,"color":"#eea526"},
"encoding":{"x":{"field":"tt","type":"quantitative","scale":{"domain":[7.656,22.06],"nice":false,"zero":false},"axis":null},"y":{"field":"I"},"text":{"field":"label"}}},
{"data":{"name":"b_text"},"transform":[{"filter":"datum.grp == 'fcc'"}],"mark":{"type":"text","align":"right","baseline":"alphabetic","fontSize":23,"color":"#d8262c"},
"encoding":{"x":{"field":"tt","type":"quantitative","scale":{"domain":[7.656,22.06],"nice":false,"zero":false},"axis":null},"y":{"field":"I"},"text":{"field":"label"}}},
{"data":{"name":"b_text"},"transform":[{"filter":"datum.grp == 'cond'"}],"mark":{"type":"text","align":"right","baseline":"alphabetic","fontSize":23,"color":"#222"},
"encoding":{"x":{"field":"tt","type":"quantitative","scale":{"domain":[7.656,22.06],"nice":false,"zero":false},"axis":null},"y":{"field":"I"},"text":{"field":"label"}}},
{"data":{"name":"b_text"},"transform":[{"filter":"datum.grp == 'star'"}],"mark":{"type":"text","align":"center","baseline":"alphabetic","fontSize":20,"color":"#222"},
"encoding":{"x":{"field":"tt","type":"quantitative","scale":{"domain":[7.656,22.06],"nice":false,"zero":false},"axis":null},"y":{"field":"I"},"text":{"field":"label"}}}
]}
]
}
